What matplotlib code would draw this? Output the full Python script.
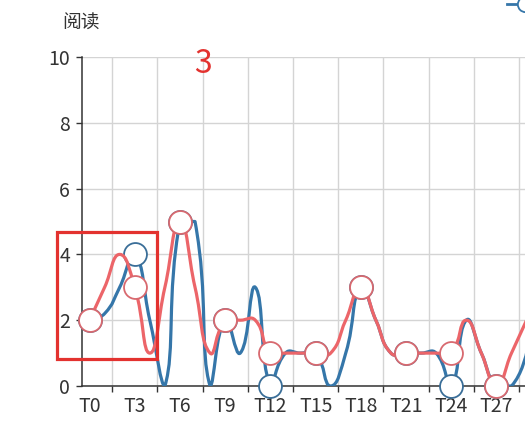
import matplotlib
matplotlib.use("Agg")
import matplotlib.pyplot as plt
import numpy as np
from matplotlib.path import Path
from matplotlib.patches import PathPatch, Rectangle
from matplotlib.lines import Line2D

# ---------------- data ----------------
categories = ["T0", "T1", "T2", "T3", "T4", "T5", "T6", "T7", "T8", "T9",
              "T10", "T11", "T12", "T13", "T14", "T15", "T16", "T17", "T18", "T19",
              "T20", "T21", "T22", "T23", "T24", "T25", "T26", "T27", "T28", "T29"]
blue_values = [2, 2.2, 3, 4, 2, 0, 5, 5, 0, 2,
               1, 3, 0, 1, 1, 1, 0, 1, 3, 2,
               1, 1, 1, 1, 0, 2, 1, 0, 0, 1]
red_values = [2, 3, 4, 3, 1, 3, 5, 3, 1, 2,
              2, 2, 1, 1, 1, 1, 1, 2, 3, 2,
              1, 1, 1, 1, 1, 2, 1, 0, 1, 2]
y_ticks = [0, 2, 4, 6, 8, 10]
axis_name = "阅读"
annotation_text = "3"
label_step = 3

# ---------------- style ----------------
plt.rcParams["font.family"] = ["Noto Sans CJK SC", "DejaVu Sans"]
BLUE = "#3576a9"
BLUE_EDGE = "#3a6e98"
RED = "#ec6569"
RED_EDGE = "#d8696f"
GRID = "#d4d4d4"
AXIS = "#333333"
TEXT = "#333333"

W, H = 525, 440
fig = plt.figure(figsize=(W / 100, H / 100), dpi=100)

n = len(categories)
px_per_cat = 15.07
left_px, bottom_px, top_px = 82, 386, 57
ax = fig.add_axes([left_px / W, (H - bottom_px) / H,
                   n * px_per_cat / W, (bottom_px - top_px) / H])
ax.set_xlim(-0.5, n - 0.5)
ax.set_ylim(0, 10)
sx = px_per_cat
sy = (bottom_px - top_px) / 10.0


def echarts_smooth_path(values, smooth=0.5):
    """ECharts (v4) smoothed polyline as cubic bezier path, in data coords."""
    xs = np.arange(len(values), dtype=float)
    P = np.column_stack([xs * sx, np.asarray(values, float) * sy])
    mn, mx = P.min(axis=0), P.max(axis=0)
    verts = [P[0].copy()]
    codes = [Path.MOVETO]
    cp0 = P[0].copy()
    m = len(P)
    for i in range(1, m):
        p, prev = P[i], P[i - 1]
        if i == m - 1:
            cp1 = p.copy()
            v = np.zeros(2)
            ratio = 0.5
        else:
            nxt = P[i + 1]
            v = nxt - prev
            lp = np.hypot(*(p - prev))
            ln = np.hypot(*(p - nxt))
            ratio = ln / (ln + lp)
            cp1 = p - v * smooth * (1 - ratio)
        verts += [np.clip(cp0, mn, mx), np.clip(cp1, mn, mx), p.copy()]
        codes += [Path.CURVE4] * 3
        cp0 = p + v * smooth * ratio
    verts = np.array(verts) / np.array([sx, sy])
    return Path(verts, codes)


idx = np.arange(n)
mark_idx = idx[::label_step]

for k, (vals, col, ecol) in enumerate([(blue_values, BLUE, BLUE_EDGE),
                                       (red_values, RED, RED_EDGE)]):
    z = 4 + 2 * k
    ax.add_patch(PathPatch(echarts_smooth_path(vals), facecolor="none",
                           edgecolor=col, lw=2.3, zorder=z,
                           capstyle="round", joinstyle="round"))
    ax.plot(mark_idx, np.asarray(vals)[mark_idx], linestyle="none", marker="o",
            ms=16.5, mfc="white", mec=ecol, mew=1.3, zorder=z + 1,
            clip_on=False)

# axes styling
for s in ["top", "right"]:
    ax.spines[s].set_visible(False)
for s in ["left", "bottom"]:
    ax.spines[s].set_color(AXIS)
    ax.spines[s].set_linewidth(1.1)
    ax.spines[s].set_zorder(3)

ax.set_yticks(y_ticks)
ax.set_yticklabels([str(t) for t in y_ticks])
ax.tick_params(axis="y", length=4.5, width=1.0, color=AXIS, pad=4,
               labelsize=14, labelcolor=TEXT)

ax.set_xticks(mark_idx)
ax.set_xticklabels([categories[i] for i in mark_idx])
ax.set_xticks(np.arange(label_step - 1.5, n - 0.5, label_step), minor=True)
ax.tick_params(axis="x", which="major", length=0, pad=7,
               labelsize=14, labelcolor=TEXT)
ax.tick_params(axis="x", which="minor", length=4.5, width=1.0, color=AXIS)

ax.grid(True, axis="y", which="major", color=GRID, lw=1.0, zorder=0)
ax.grid(True, axis="x", which="minor", color=GRID, lw=1.0, zorder=0)
ax.set_axisbelow(True)

# axis name
fig.text(81 / W, 1 - 23 / H, axis_name, ha="center", va="center",
         fontsize=13.5, color=TEXT)

# annotation: red box and number
fig.add_artist(Rectangle((57 / W, (H - 359) / H), 100 / W, 127 / H,
                         transform=fig.transFigure, fill=False,
                         edgecolor="#e3322f", lw=2.3, zorder=20))
fig.text(203 / W, 1 - 64 / H, annotation_text, ha="center", va="center",
         fontsize=23, color="#e3322f", zorder=20)

# legend icon fragment at the top-right edge (label lies outside the canvas)
handles = [Line2D([], [], color=BLUE, lw=2.0, marker="o", ms=11, mfc="white",
                  mec=BLUE, mew=1.3)]
fig.legend(handles, [""], loc="center left",
           bbox_to_anchor=(507 / W, 1 - 5 / H), frameon=False,
           borderpad=0, borderaxespad=0, handlelength=1.9, fontsize=14)

fig.savefig("out.png", dpi=100)
